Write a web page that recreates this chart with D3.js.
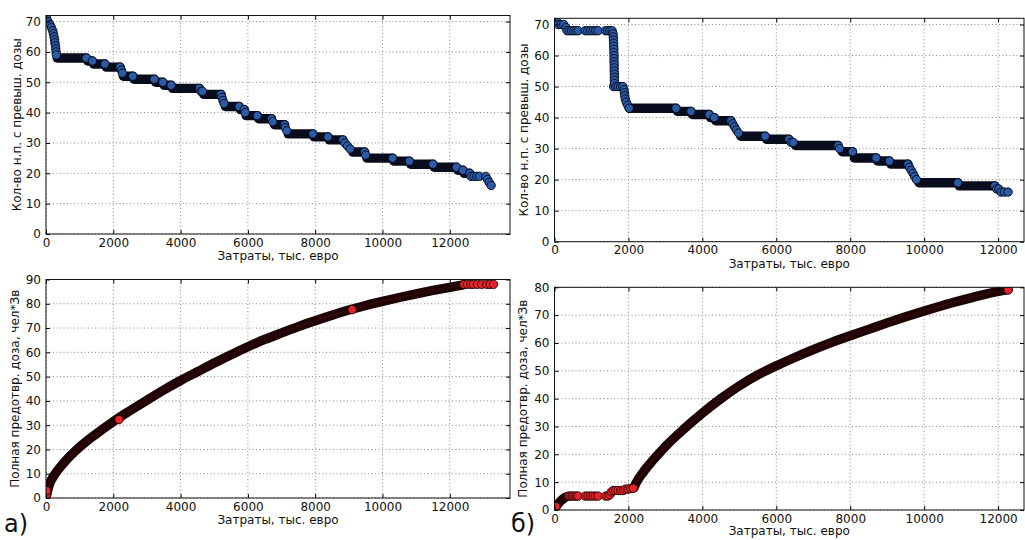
<!DOCTYPE html>
<html><head><meta charset="utf-8">
<script src="https://cdn.jsdelivr.net/npm/d3@7"></script>
<style>
body{margin:0;background:#fff}
svg{display:block}
text{font-family:"DejaVu Sans",Verdana,sans-serif}
</style>
</head><body>
<svg id="c" width="1025" height="540"></svg>
<script>
// ---------- tick labels ----------
const xTicks = [0, 2000, 4000, 6000, 8000, 10000, 12000];
const yTicksTop = [0, 10, 20, 30, 40, 50, 60, 70];
const yTicksBotA = [0, 10, 20, 30, 40, 50, 60, 70, 80, 90];
const yTicksBotB = [0, 10, 20, 30, 40, 50, 60, 70, 80];
const xLabel = "Затраты, тыс. евро";
const yLabelTop = "Кол-во н.п. с превыш. дозы";
const yLabelBot = "Полная предотвр. доза, чел*Зв";

// ---------- panel а) top: dense horizontal runs (x0, x1, level) ----------
const runA_x0 = [330, 1240, 1420, 1790, 2300, 2620, 3260, 3510, 3760, 4690, 5330, 5780, 5950, 6320, 6790, 7200, 7970, 8420, 9120, 9540, 10340, 10840, 11540, 12240, 12430];
const runA_x1 = [1200, 1380, 1750, 2200, 2580, 3220, 3470, 3720, 4560, 5200, 5740, 5890, 6280, 6700, 7090, 7930, 8380, 8820, 9470, 10300, 10800, 11500, 12200, 12390, 12590];
const runA_y  = [58, 57, 56, 55, 52, 51, 50, 49, 48, 46, 42, 41, 39, 38, 36, 33, 32, 31, 27, 25, 24, 23, 22, 21, 20];
// isolated points (a)
const ptA_x = [0, 20, 60, 120, 160, 200, 220, 240, 255, 265, 280, 290, 300, 310, 2240, 2270, 4600, 4650, 5230, 5260, 5290, 5920, 6740, 7110, 7160, 8880, 8960, 9040, 9500, 12630, 12720, 12800, 12880, 13070, 13120, 13170, 13230];
const ptA_y = [71, 71, 70, 69, 68, 67, 66, 65, 64, 63, 62, 61, 60, 59, 54, 53, 47, 47, 45, 44, 43, 40, 37, 35, 34, 30, 29, 28, 26, 19, 19, 19, 19, 19, 18, 17, 16];

// ---------- panel б) top ----------
const runB_x0 = [2025, 3330, 3730, 4220, 4360, 5040, 5740, 6520, 7780, 8110, 8740, 9100, 9860, 10950];
const runB_x1 = [3285, 3690, 4185, 4320, 4770, 5700, 6340, 7670, 8060, 8700, 9060, 9560, 10910, 11910];
const runB_y  = [43, 42, 41, 40, 39, 34, 33, 31, 29, 27, 26, 25, 19, 18];
const ptB_x = [20, 60, 100, 180, 250, 310,
  340, 400, 460, 520, 580, 640, 830, 900, 970, 1040, 1110, 1180, 1380, 1440, 1500, 1560,
  1585, 1590, 1595, 1600, 1600, 1605, 1605, 1610, 1610, 1610, 1615, 1615, 1615, 1620, 1620, 1620, 1620,
  1600, 1660, 1720, 1790, 1850,
  1880, 1890, 1900, 1915, 1940, 1980, 2020,
  4820, 4870, 4920, 4980, 6400, 6460, 7710,
  9600, 9650, 9700, 9740, 9790,
  11960, 12020, 12080, 12170, 12270];
const ptB_y = [71, 71, 70, 70, 70, 69,
  68, 68, 68, 68, 68, 68, 68, 68, 68, 68, 68, 68, 68, 68, 68, 68,
  67, 66, 65, 64, 63, 62, 61, 60, 59, 58, 57, 56, 55, 54, 53, 52, 51,
  50, 50, 50, 50, 50,
  49, 48, 47, 46, 45, 44, 43,
  38, 37, 36, 35, 32, 32, 30,
  24, 23, 22, 21, 20,
  17, 17, 16, 16, 16];

// ---------- panel а) bottom: dense curve + visible red points ----------
const curveA_x = [0, 100, 250, 500, 1000, 1500, 2000, 2500, 3000, 3500, 4000, 4500, 5000, 5500, 6000, 6500, 7000, 7500, 8000, 8500, 9000, 9500, 10000, 10500, 11000, 11500, 12000, 12400];
const curveA_y = [0, 5.5, 9.5, 14, 21, 26.5, 31.5, 36, 40.3, 44.5, 48.4, 52, 55.6, 59, 62.3, 65.3, 68, 70.6, 73, 75.3, 77.4, 79.3, 81, 82.6, 84.1, 85.5, 86.8, 87.8];
const redA_x = [10, 20, 2170, 9100, 12420, 12520, 12620, 12700, 12820, 12950, 13100, 13200, 13300];
const redA_y = [1, 3, 32.3, 77.6, 88, 88, 88, 88, 88, 88, 88, 88, 88];

// ---------- panel б) bottom ----------
const riseB_x = [0, 60, 150, 250, 330];
const riseB_y = [0, 1.5, 3, 4.2, 4.8];
const curveB_x = [2150, 2200, 2400, 2600, 2800, 3000, 3500, 4000, 4500, 5000, 5500, 6000, 6500, 7000, 7500, 8000, 8500, 9000, 9500, 10000, 10500, 11000, 11500, 12000, 12270];
const curveB_y = [8, 9.5, 13.6, 16.9, 19.9, 22.8, 29.1, 34.8, 40, 44.6, 48.5, 51.8, 54.8, 57.6, 60.2, 62.6, 64.9, 67.2, 69.4, 71.5, 73.5, 75.3, 77, 78.5, 79.2];
const redB_x = [0, 40, 380, 430, 480, 530, 590, 640, 830, 900, 970, 1040, 1110, 1180, 1380, 1440, 1500, 1540, 1590, 1650, 1720, 1790, 1860, 1920, 1990, 2060, 2130, 12270];
const redB_y = [0.5, 1.2, 5, 5, 5, 5, 5, 5, 5, 5, 5, 5, 5, 5, 5, 5, 5.5, 6.5, 7, 7, 7, 7, 7, 7.5, 7.5, 7.7, 7.8, 79];

// ---------- drawing ----------
const svg = d3.select('#c');
const BLUE = '#2b5aa6', BLUE_BAND = '#090c1c', RED = '#e3252a', RED_BAND = '#1f0405';
const R = 4.2;
let clipId = 0;

function panel(cfg) {
  const x = d3.scaleLinear().domain([0, cfg.xMax]).range([cfg.left, cfg.right]);
  const y = d3.scaleLinear().domain([0, cfg.yMax]).range([cfg.bottom, cfg.top]);
  const g = svg.append('g');
  g.append('g').selectAll('line').data(xTicks).join('line')
    .attr('x1', d => x(d)).attr('x2', d => x(d)).attr('y1', cfg.top).attr('y2', cfg.bottom)
    .attr('stroke', '#8a8a8a').attr('stroke-width', 1).attr('stroke-dasharray', '1,2.5');
  g.append('g').selectAll('line').data(cfg.yTicks).join('line')
    .attr('y1', d => y(d)).attr('y2', d => y(d)).attr('x1', cfg.left).attr('x2', cfg.right)
    .attr('stroke', '#8a8a8a').attr('stroke-width', 1).attr('stroke-dasharray', '1,2.5');
  const id = 'clip' + (clipId++);
  svg.append('clipPath').attr('id', id).append('rect')
    .attr('x', cfg.left).attr('y', cfg.top).attr('width', cfg.right - cfg.left).attr('height', cfg.bottom - cfg.top);
  const data = g.append('g').attr('clip-path', `url(#${id})`);
  return { x, y, g, data, cfg };
}

function finishPanel(p) {
  const { x, y, g, cfg } = p;
  const bx = g.append('g').attr('transform', `translate(0,${cfg.bottom})`)
    .call(d3.axisBottom(x).tickValues(xTicks).tickFormat(d3.format('d')).tickSizeInner(-4).tickSizeOuter(0).tickPadding(4));
  const tx = g.append('g').attr('transform', `translate(0,${cfg.top})`)
    .call(d3.axisTop(x).tickValues(xTicks).tickFormat('').tickSizeInner(-4).tickSizeOuter(0));
  const ly = g.append('g').attr('transform', `translate(${cfg.left},0)`)
    .call(d3.axisLeft(y).tickValues(cfg.yTicks).tickSizeInner(-4).tickSizeOuter(0).tickPadding(5));
  const ry = g.append('g').attr('transform', `translate(${cfg.right},0)`)
    .call(d3.axisRight(y).tickValues(cfg.yTicks).tickFormat('').tickSizeInner(-4).tickSizeOuter(0));
  [bx, tx, ly, ry].forEach(a => {
    a.select('.domain').remove();
    a.selectAll('text').attr('font-size', 12).attr('font-family', '"DejaVu Sans",sans-serif').attr('fill', '#111');
    a.selectAll('line').attr('stroke', '#000');
  });
  g.append('rect').attr('x', cfg.left).attr('y', cfg.top)
    .attr('width', cfg.right - cfg.left).attr('height', cfg.bottom - cfg.top)
    .attr('fill', 'none').attr('stroke', '#111').attr('stroke-width', 1);
  g.append('text').attr('x', (cfg.left + cfg.right) / 2).attr('y', cfg.xLabelY)
    .attr('text-anchor', 'middle').attr('font-size', 12).attr('fill', '#111').text(xLabel);
  g.append('text').attr('transform', `translate(${cfg.yLabelX},${(cfg.top + cfg.bottom) / 2}) rotate(-90)`)
    .attr('text-anchor', 'middle').attr('dy', '0.35em').attr('font-size', 12).attr('fill', '#111').text(cfg.yLabel);
}

function drawSteps(p, rx0, rx1, ry, px, py) {
  const { x, y, data } = p;
  const runs = ry.map((v, i) => ({ x0: rx0[i], x1: rx1[i], y: v }));
  data.append('g').selectAll('line').data(runs).join('line')
    .attr('x1', d => x(d.x0)).attr('x2', d => x(d.x1)).attr('y1', d => y(d.y)).attr('y2', d => y(d.y))
    .attr('stroke', BLUE_BAND).attr('stroke-width', 2 * R + 1).attr('stroke-linecap', 'round');
  const pts = px.map((v, i) => ({ x: v, y: py[i] }));
  runs.forEach(r => pts.push({ x: r.x1, y: r.y }));
  pts.sort((a, b) => a.x - b.x);
  data.append('g').selectAll('circle').data(pts).join('circle')
    .attr('cx', d => x(d.x)).attr('cy', d => y(d.y)).attr('r', R)
    .attr('fill', BLUE).attr('stroke', '#050814').attr('stroke-width', 0.9);
}

function drawCurve(p, segs, rx, ry) {
  const { x, y, data } = p;
  const line = d3.line().x(d => x(d[0])).y(d => y(d[1])).curve(d3.curveMonotoneX);
  segs.forEach(([cx, cy]) => {
    const pts = cx.map((v, i) => [v, cy[i]]);
    data.append('path').attr('d', line(pts)).attr('fill', 'none')
      .attr('stroke', RED_BAND).attr('stroke-width', 2 * R + 1).attr('stroke-linecap', 'round').attr('stroke-linejoin', 'round');
    data.append('path').attr('d', line(pts)).attr('fill', 'none')
      .attr('stroke', '#4a0a0c').attr('stroke-width', 1.2).attr('stroke-opacity', 0.6);
  });
  const pts = rx.map((v, i) => ({ x: v, y: ry[i] }));
  data.append('g').selectAll('circle').data(pts).join('circle')
    .attr('cx', d => x(d.x)).attr('cy', d => y(d.y)).attr('r', R)
    .attr('fill', RED).attr('stroke', '#200000').attr('stroke-width', 0.9);
}

const pA1 = panel({ left: 46, right: 510, top: 15.5, bottom: 234, xMax: 13790, yMax: 72, yTicks: yTicksTop, xLabelY: 260, yLabelX: 17, yLabel: yLabelTop });
drawSteps(pA1, runA_x0, runA_x1, runA_y, ptA_x, ptA_y);
finishPanel(pA1);

const pA2 = panel({ left: 46, right: 510, top: 279.5, bottom: 498, xMax: 13790, yMax: 90, yTicks: yTicksBotA, xLabelY: 524, yLabelX: 15, yLabel: yLabelBot });
drawCurve(pA2, [[curveA_x, curveA_y]], redA_x, redA_y);
finishPanel(pA2);

const pB1 = panel({ left: 554.5, right: 1024, top: 18.3, bottom: 241.7, xMax: 12700, yMax: 72, yTicks: yTicksTop, xLabelY: 268, yLabelX: 524, yLabel: yLabelTop });
drawSteps(pB1, runB_x0, runB_x1, runB_y, ptB_x, ptB_y);
finishPanel(pB1);

const pB2 = panel({ left: 554.5, right: 1024, top: 287.3, bottom: 510, xMax: 12700, yMax: 80, yTicks: yTicksBotB, xLabelY: 535, yLabelX: 523, yLabel: yLabelBot });
drawCurve(pB2, [[riseB_x, riseB_y], [curveB_x, curveB_y]], redB_x, redB_y);
finishPanel(pB2);

svg.append('text').attr('x', 4).attr('y', 532).attr('font-size', 24)
  .attr('font-family', '"Liberation Sans Narrow","Liberation Sans",Arial,sans-serif').attr('fill', '#111').text('а)');
svg.append('text').attr('x', 511).attr('y', 532).attr('font-size', 24)
  .attr('font-family', '"Liberation Sans Narrow","Liberation Sans",Arial,sans-serif').attr('fill', '#111').text('б)');
</script>
</body></html>
